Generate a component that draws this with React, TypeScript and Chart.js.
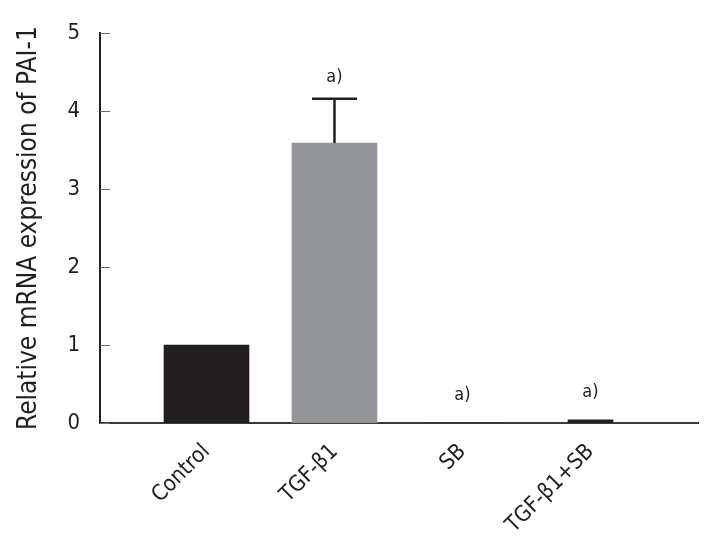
import React, { useEffect, useRef } from 'react';
import { Chart, registerables } from 'chart.js';

Chart.register(...registerables);

const categories = ['Control', 'TGF-β1', 'SB', 'TGF-β1+SB'];
const meanValues = [1.0, 3.59, 0, 0.04];
const errorUpper: (number | null)[] = [null, 4.16, null, null];
const significance = ['', 'a)', 'a)', 'a)'];
const yTickValues = [0, 1, 2, 3, 4, 5];
const yTitle = 'Relative mRNA expression of PAI-1';

const FONT = '"Liberation Sans Narrow", "DejaVu Sans Condensed", sans-serif';
const INK = '#231f20';
const GRAY = '#939598';
const barColors = [INK, GRAY, INK, INK];
const narrowIndex = 3;

const overlayPlugin = {
  id: 'overlay',
  afterDatasetsDraw(chart: any) {
    const ctx = chart.ctx;
    const xs = chart.scales.x;
    const ys = chart.scales.y;
    ctx.save();
    // inward y ticks
    ctx.strokeStyle = '#6d6e71';
    ctx.lineWidth = 1;
    yTickValues.forEach((v) => {
      const py = Math.round(ys.getPixelForValue(v)) + 0.5;
      ctx.beginPath();
      ctx.moveTo(xs.left, py);
      ctx.lineTo(xs.left + 10, py);
      ctx.stroke();
    });
    // error bars
    ctx.strokeStyle = INK;
    ctx.lineWidth = 2.5;
    errorUpper.forEach((e, i) => {
      if (e == null) return;
      const px = xs.getPixelForValue(i);
      const top = ys.getPixelForValue(e);
      const base = ys.getPixelForValue(meanValues[i]);
      ctx.beginPath();
      ctx.moveTo(px, base);
      ctx.lineTo(px, top);
      ctx.moveTo(px - 22.5, top);
      ctx.lineTo(px + 22.5, top);
      ctx.stroke();
    });
    // significance labels
    ctx.fillStyle = INK;
    ctx.font = `18px ${FONT}`;
    ctx.textAlign = 'center';
    ctx.textBaseline = 'bottom';
    significance.forEach((s, i) => {
      if (!s) return;
      const px = xs.getPixelForValue(i);
      const e = errorUpper[i];
      const py = e != null ? ys.getPixelForValue(e) - 12 : ys.getPixelForValue(meanValues[i]) - 19;
      ctx.fillText(s, px, py);
    });
    ctx.restore();
  },
};

export default function App() {
  const ref = useRef<HTMLCanvasElement | null>(null);
  useEffect(() => {
    if (!ref.current) return;
    const wide = categories
      .map((_, i) => ({ x: i, y: meanValues[i] }))
      .filter((_, i) => i !== narrowIndex);
    const narrow = [{ x: narrowIndex, y: meanValues[narrowIndex] }];
    const chart = new Chart(ref.current, {
      type: 'bar',
      data: {
        datasets: [
          {
            data: wide,
            backgroundColor: barColors.filter((_, i) => i !== narrowIndex),
            barThickness: 85,
            grouped: false,
          } as any,
          {
            data: narrow,
            backgroundColor: barColors[narrowIndex],
            barThickness: 45,
            grouped: false,
          } as any,
        ],
      },
      options: {
        animation: false,
        responsive: true,
        maintainAspectRatio: false,
        layout: { padding: { top: 25, right: 16, left: 0, bottom: 0 } },
        plugins: { legend: { display: false }, tooltip: { enabled: false } },
        scales: {
          x: {
            type: 'linear',
            offset: false,
            min: -0.832,
            max: 3.84,
            grid: { display: false, drawTicks: false, offset: false },
            border: { display: true, color: '#3a3a3a', width: 2 },
            afterBuildTicks: (scale: any) => {
              scale.ticks = categories.map((_, i) => ({ value: i }));
            },
            afterFit: (scale: any) => {
              scale.height = 128;
            },
            ticks: {
              autoSkip: false,
              maxRotation: 45,
              minRotation: 45,
              padding: 16,
              color: INK,
              font: { family: FONT, size: 22 },
              callback: (v: any) => categories[v as number] ?? '',
            },
          },
          y: {
            min: 0,
            max: 5,
            grid: { display: false, drawTicks: false },
            border: { display: true, color: INK, width: 2 },
            afterFit: (scale: any) => {
              scale.width = 100;
            },
            afterBuildTicks: (scale: any) => {
              scale.ticks = yTickValues.map((v) => ({ value: v }));
            },
            ticks: {
              padding: 20,
              color: INK,
              font: { family: FONT, size: 22 },
            },
            title: {
              display: true,
              text: yTitle,
              color: INK,
              font: { family: FONT, size: 26 },
              padding: { top: 14, bottom: 0 },
            },
          },
        },
      } as any,
      plugins: [overlayPlugin],
    });
    return () => chart.destroy();
  }, []);
  return (
    <div style={{ position: 'fixed', left: 0, top: 0, width: 714, height: 551, background: '#fff' }}>
      <canvas ref={ref} />
    </div>
  );
}
